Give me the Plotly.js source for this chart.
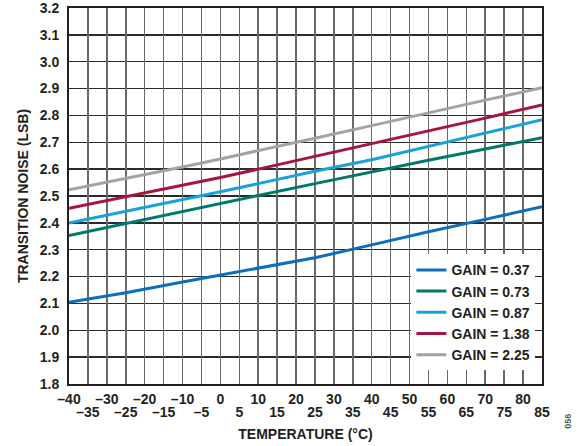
<!DOCTYPE html>
<html>
<head>
<meta charset="utf-8">
<script src="https://cdn.plot.ly/plotly-3.0.1.min.js"></script>
<style>html,body{margin:0;padding:0;background:#fff;}#chart{width:587px;height:446px;}</style>
</head>
<body>
<div id="chart"></div>
<script>
// Temperature (°C)
const temps = [-40, -25, -10, 0, 10, 25, 40, 55, 70, 85];
// Transition noise (LSB) per gain setting
const gain037 = [2.104, 2.140, 2.180, 2.205, 2.230, 2.270, 2.318, 2.367, 2.413, 2.460];
const gain073 = [2.353, 2.398, 2.444, 2.473, 2.502, 2.546, 2.590, 2.633, 2.675, 2.717];
const gain087 = [2.399, 2.442, 2.486, 2.516, 2.546, 2.592, 2.635, 2.684, 2.734, 2.784];
const gain138 = [2.454, 2.497, 2.539, 2.569, 2.600, 2.647, 2.694, 2.742, 2.790, 2.839];
const gain225 = [2.523, 2.565, 2.608, 2.638, 2.668, 2.715, 2.762, 2.810, 2.857, 2.903];
const seriesNames = ["GAIN = 0.37", "GAIN = 0.73", "GAIN = 0.87", "GAIN = 1.38", "GAIN = 2.25"];
const seriesColors = ["#0b6fbd", "#00796b", "#17a2dc", "#a5163f", "#a3a3a3"];
// X tick labels: upper row and lower row
const xTopVals = [-40,-30,-20,-10,0,10,20,30,40,50,60,70,80];
const xBottomVals = [-35,-25,-15,-5,5,15,25,35,45,55,65,75,85];
const fmt = v => (v < 0 ? "\u2013" + Math.abs(v) : String(v));
const yTickVals = [1.8,1.9,2.0,2.1,2.2,2.3,2.4,2.5,2.6,2.7,2.8,2.9,3.0,3.1,3.2];
const yTickText = yTickVals.map(v => v.toFixed(1));

const allSeries = [gain037, gain073, gain087, gain138, gain225];
const font = {family: "Liberation Sans, Arial, sans-serif", size: 14, color: "#231f20", weight: "bold"};

const allXVals = xBottomVals.concat(xTopVals).sort((a, b) => a - b);

const traces = allSeries.map((ys, i) => ({
  x: temps, y: ys, type: "scatter", mode: "lines", name: seriesNames[i],
  line: {color: seriesColors[i], width: 3}
}));
// carrier for the lower tick-label row / vertical grid (not visible)
traces.unshift({x: temps, y: gain037, xaxis: "x2", type: "scatter", mode: "lines",
                line: {width: 0, color: "rgba(0,0,0,0)"}, showlegend: false, hoverinfo: "skip"});

const layout = {
  width: 587, height: 446,
  margin: {l: 68.5, r: 44.5, t: 8, b: 62},
  paper_bgcolor: "#fff", plot_bgcolor: "#fff",
  font: font,
  showlegend: true,
  legend: {x: 0.986, xanchor: "right", y: 0.345, yanchor: "top", bgcolor: "#fff",
           font: {family: font.family, size: 14, color: "#231f20", weight: "bold"},
           itemwidth: 30, tracegroupgap: 0},
  xaxis: {range: [-40, 85], tickvals: xTopVals, ticktext: xTopVals.map(fmt), tickangle: 0,
          showgrid: false,
          showline: true, linecolor: "#231f20", linewidth: 2, mirror: true,
          ticks: "outside", ticklen: 1, tickcolor: "rgba(0,0,0,0)",
          ticklabeloverflow: "allow",
          zeroline: false, fixedrange: true},
  xaxis2: {range: [-40, 85], overlaying: "x", side: "bottom", anchor: "y",
           tickvals: allXVals,
           ticktext: allXVals.map(v => xBottomVals.includes(v) ? fmt(v) : " "),
           tickangle: 0,
           showgrid: true, gridcolor: "#6a6a6a", gridwidth: 1.5,
           showline: false,
           ticks: "outside", ticklen: 15, tickcolor: "rgba(0,0,0,0)",
           ticklabeloverflow: "allow",
           zeroline: false, fixedrange: true,
           title: {text: "TEMPERATURE (°C)", font: font, standoff: 10}},
  yaxis: {range: [1.8, 3.2], tickvals: yTickVals, ticktext: yTickText,
          showgrid: true, gridcolor: "#2a2a2a", gridwidth: 1.5,
          showline: true, linecolor: "#231f20", linewidth: 2, mirror: true,
          ticks: "outside", ticklen: 5, tickcolor: "rgba(0,0,0,0)",
          ticklabeloverflow: "allow",
          zeroline: false, fixedrange: true,
          title: {text: "TRANSITION NOISE (LSB)", font: font, standoff: 8}},
  annotations: [{text: "056", xref: "paper", yref: "paper", x: 1.068, y: -0.125,
                 showarrow: false, textangle: -90,
                 font: {family: "Liberation Sans, Arial, sans-serif", size: 9, color: "#555"}}]
};

Plotly.newPlot("chart", traces, layout, {staticPlot: true, displayModeBar: false});
</script>
</body>
</html>
